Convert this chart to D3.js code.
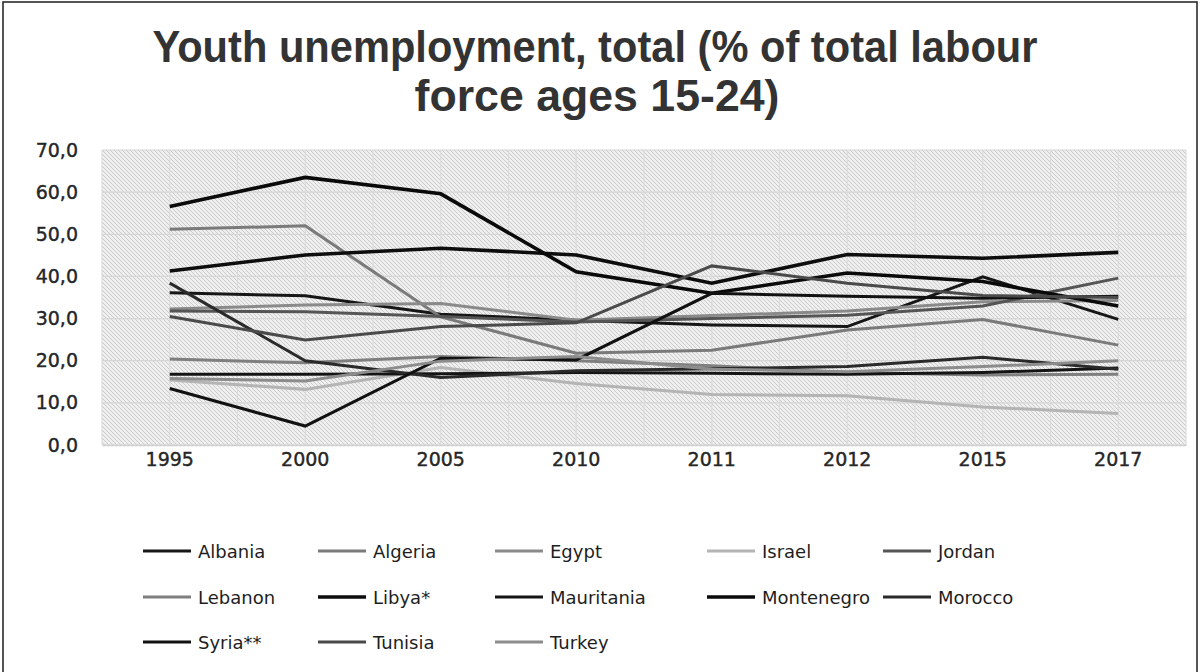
<!DOCTYPE html>
<html>
<head>
<meta charset="utf-8">
<script src="https://cdn.jsdelivr.net/npm/d3@7"></script>
<style>
  html, body { margin: 0; padding: 0; background: #fff; }
  svg { display: block; }
</style>
</head>
<body>
<svg id="chart" width="1201" height="672"></svg>
<script>
// Survey years (category axis)
const years = ["1995", "2000", "2005", "2010", "2011", "2012", "2015", "2017"];

// Youth unemployment, % of labour force aged 15-24
const albania    = [36.1, 35.4, 31.0, 29.6, 28.5, 28.1, 39.9, 29.8];
const algeria    = [51.2, 52.0, 30.4, 21.8, 22.5, 27.3, 29.8, 23.7];
const egypt      = [32.3, 33.2, 33.6, 29.6, 30.7, 31.8, 34.0, 34.3];
const israel     = [15.4, 13.2, 18.4, 14.6, 12.0, 11.7, 9.0, 7.5];
const jordan     = [31.8, 31.6, 30.5, 29.2, 30.0, 30.8, 33.0, 39.6];
const lebanon    = [20.4, 19.5, 21.0, 20.0, 18.8, 17.2, 16.6, 16.8];
const libya      = [41.3, 45.1, 46.7, 45.1, 38.4, 45.2, 44.3, 45.7];
const mauritania = [16.8, 16.8, 16.9, 17.2, 17.0, 16.8, 17.2, 18.3];
const montenegro = [56.6, 63.5, 59.6, 41.1, 36.0, 40.8, 38.8, 33.0];
const morocco    = [38.4, 20.0, 16.0, 17.6, 18.1, 18.6, 20.8, 18.0];
const syria      = [13.4, 4.5, 20.6, 20.2, 36.0, 35.3, 34.8, 35.3];
const tunisia    = [30.5, 24.9, 28.1, 29.0, 42.5, 38.4, 35.5, 35.0];
const turkey     = [15.8, 15.2, 19.9, 21.0, 18.0, 17.4, 18.6, 20.0];

const countryNames = ["Albania", "Algeria", "Egypt", "Israel", "Jordan", "Lebanon", "Libya*",
                      "Mauritania", "Montenegro", "Morocco", "Syria**", "Tunisia", "Turkey"];
const seriesValues = [albania, algeria, egypt, israel, jordan, lebanon, libya,
                      mauritania, montenegro, morocco, syria, tunisia, turkey];

// y-axis ticks
const yTicks = [0, 10, 20, 30, 40, 50, 60, 70];

const titleLines = ["Youth unemployment, total (% of total labour", "force ages 15-24)"];

// ---- styling ----
const lineColors = ["#161616", "#7a7a7a", "#8a8a8a", "#b4b4b4", "#555555", "#7f7f7f", "#0d0d0d",
                    "#141414", "#0a0a0a", "#2a2a2a", "#111111", "#4a4a4a", "#8c8c8c"];
const lineWidths = [3, 3, 3, 3, 3, 3, 3.6, 3, 3.6, 3, 3, 3, 3];

const series = countryNames.map((name, i) => ({
  name, values: seriesValues[i], color: lineColors[i], width: lineWidths[i]
}));

const svg = d3.select("#chart");
const plot = { left: 102, right: 1186, top: 150, bottom: 445 };

// outer frame
svg.append("rect")
  .attr("x", 3).attr("y", 2).attr("width", 1194).attr("height", 690)
  .attr("fill", "none").attr("stroke", "#2b2b2b").attr("stroke-width", 1.6);

// hatched plot background
const defs = svg.append("defs");
const pat = defs.append("pattern")
  .attr("id", "hatch").attr("patternUnits", "userSpaceOnUse")
  .attr("width", 4).attr("height", 4);
pat.append("rect").attr("width", 4).attr("height", 4).attr("fill", "#efefef");
pat.append("path")
  .attr("d", "M0,0 L4,4 M-1,3 L1,5 M3,-1 L5,1")
  .attr("stroke", "#cbcbcb").attr("stroke-width", 1);

const x = d3.scaleBand().domain(years).range([plot.left, plot.right]);
const xc = d => x(d) + x.bandwidth() / 2;
const y = d3.scaleLinear().domain([0, 70]).range([plot.bottom, plot.top]);

svg.append("rect")
  .attr("x", plot.left).attr("y", plot.top)
  .attr("width", plot.right - plot.left).attr("height", plot.bottom - plot.top)
  .attr("fill", "url(#hatch)");

// gridlines
const grid = svg.append("g").attr("stroke", "#d6d6d6").attr("stroke-width", 1.2);
yTicks.forEach(t => {
  grid.append("line")
    .attr("x1", plot.left).attr("x2", plot.right)
    .attr("y1", y(t)).attr("y2", y(t));
});
const vLines = [];
years.forEach(yr => { vLines.push(x(yr)); vLines.push(xc(yr)); });
vLines.push(plot.right);
vLines.forEach(v => {
  grid.append("line")
    .attr("x1", v).attr("x2", v)
    .attr("y1", plot.top).attr("y2", plot.bottom)
    .attr("stroke", "#dcdcdc");
});

// axes
const fmt = v => d3.format(".1f")(v).replace(".", ",");
const yAxis = svg.append("g")
  .attr("transform", `translate(${plot.left},0)`)
  .call(d3.axisLeft(y).tickValues(yTicks).tickFormat(fmt).tickSize(0).tickPadding(24));
yAxis.select(".domain").remove();
yAxis.selectAll("text")
  .attr("font-family", "DejaVu Sans, sans-serif")
  .attr("font-size", 19).attr("fill", "#262626")
  .attr("stroke", "#262626").attr("stroke-width", 0.4);

const xAxis = svg.append("g")
  .attr("transform", `translate(0,${plot.bottom})`)
  .call(d3.axisBottom(x).tickSize(0).tickPadding(8));
xAxis.select(".domain").attr("stroke", "#d0d0d0").attr("stroke-width", 1.5);
xAxis.selectAll("text")
  .attr("font-family", "DejaVu Sans, sans-serif")
  .attr("font-size", 19).attr("fill", "#262626")
  .attr("stroke", "#262626").attr("stroke-width", 0.4);

// series lines
const line = d3.line().x((d, i) => xc(years[i])).y(d => y(d));
svg.append("g").selectAll("path")
  .data(series).join("path")
  .attr("d", d => line(d.values))
  .attr("fill", "none")
  .attr("stroke", d => d.color)
  .attr("stroke-width", d => d.width)
  .attr("stroke-linejoin", "miter");

// title
const title = svg.append("g")
  .attr("font-family", "Liberation Sans Narrow, Liberation Sans, Arial, sans-serif")
  .attr("font-weight", "bold").attr("font-size", 45).attr("fill", "#333")
  .attr("text-anchor", "middle");
title.append("text").attr("x", 595).attr("y", 62)
  .attr("textLength", 885).attr("lengthAdjust", "spacingAndGlyphs")
  .text(titleLines[0]);
title.append("text").attr("x", 597).attr("y", 111)
  .attr("textLength", 365).attr("lengthAdjust", "spacingAndGlyphs")
  .text(titleLines[1]);

// legend: 5 columns, 3 rows
const legendCols = [143, 318, 495, 707, 883];
const legendRows = [551, 597, 642];
const legend = svg.append("g");
series.forEach((s, i) => {
  const cx = legendCols[i % 5], cy = legendRows[Math.floor(i / 5)];
  legend.append("line")
    .attr("x1", cx).attr("x2", cx + 48).attr("y1", cy).attr("y2", cy)
    .attr("stroke", s.color).attr("stroke-width", s.width);
  legend.append("text")
    .attr("x", cx + 55).attr("y", cy + 6.5)
    .attr("font-family", "DejaVu Sans, sans-serif")
    .attr("font-size", 18).attr("fill", "#1e1e1e")
    .text(s.name);
});
</script>
</body>
</html>
